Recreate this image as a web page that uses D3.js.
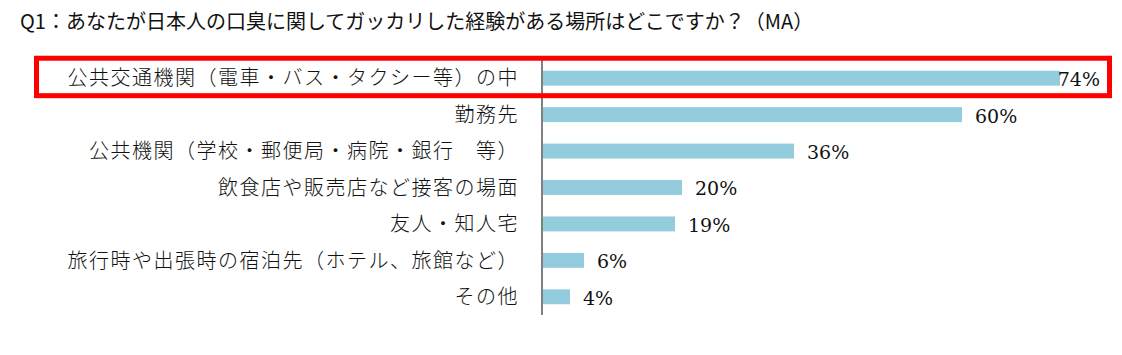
<!DOCTYPE html>
<html>
<head>
<meta charset="utf-8">
<script src="https://cdn.jsdelivr.net/npm/d3@7"></script>
<style>
  html, body { margin: 0; padding: 0; background: #fff; }
  svg { display: block; }
</style>
</head>
<body>
<svg id="chart" width="1122" height="355"></svg>
<script>
const title = "Q1：あなたが日本人の口臭に関してガッカリした経験がある場所はどこですか？（MA）";
const categories = [
  "公共交通機関（電車・バス・タクシー等）の中",
  "勤務先",
  "公共機関（学校・郵便局・病院・銀行　等）",
  "飲食店や販売店など接客の場面",
  "友人・知人宅",
  "旅行時や出張時の宿泊先（ホテル、旅館など）",
  "その他"
];
const values = [74, 60, 36, 20, 19, 6, 4];
const highlighted = [categories[0]];

const svg = d3.select("#chart");
const axisX = 542;
const x = d3.scaleLinear().domain([0, 100]).range([axisX, axisX + 700]);
const y = d3.scaleBand().domain(categories).range([60, 315]).paddingInner(0.59).paddingOuter(0.295);

// title
svg.append("text")
  .attr("x", 20).attr("y", 29)
  .attr("font-family", "'Noto Sans CJK JP', sans-serif")
  .attr("font-size", 20)
  .attr("fill", "#111")
  .text(title);

// bars
svg.append("g").selectAll("rect")
  .data(categories)
  .join("rect")
  .attr("x", x(0))
  .attr("y", d => y(d))
  .attr("width", (d, i) => x(values[i]) - x(0))
  .attr("height", y.bandwidth())
  .attr("fill", "#93CDDD");

// category labels
svg.append("g").selectAll("text")
  .data(categories)
  .join("text")
  .attr("x", axisX - 23)
  .attr("y", d => y(d) + y.bandwidth() / 2)
  .attr("dy", "0.36em")
  .attr("text-anchor", "end")
  .attr("font-family", "'Noto Sans CJK JP', sans-serif")
  .attr("font-size", 20)
  .attr("font-weight", 300)
  .attr("letter-spacing", 1.5)
  .attr("fill", "#111")
  .text(d => d);

// value labels
const labelMaxRight = 1100;
svg.append("g").selectAll("text")
  .data(categories)
  .join("text")
  .attr("y", d => y(d) + y.bandwidth() / 2)
  .attr("dy", "0.42em")
  .attr("font-family", "'DejaVu Serif', serif")
  .attr("font-size", 19)
  .attr("fill", "#111")
  .text((d, i) => values[i] + "%")
  .each(function(d, i) {
    const w = this.getComputedTextLength();
    d3.select(this).attr("x", Math.min(x(values[i]) + 13, labelMaxRight - w));
  });

// axis line
svg.append("line")
  .attr("x1", axisX).attr("x2", axisX)
  .attr("y1", 60).attr("y2", 315)
  .attr("stroke", "#808080").attr("stroke-width", 2);

// highlight box
svg.append("g").selectAll("rect")
  .data(highlighted)
  .join("rect")
  .attr("x", 36.5)
  .attr("y", d => y(d) - 12.5)
  .attr("width", 1073)
  .attr("height", y.bandwidth() + 22.5)
  .attr("fill", "none")
  .attr("stroke", "#FF0000")
  .attr("stroke-width", 5);
</script>
</body>
</html>
